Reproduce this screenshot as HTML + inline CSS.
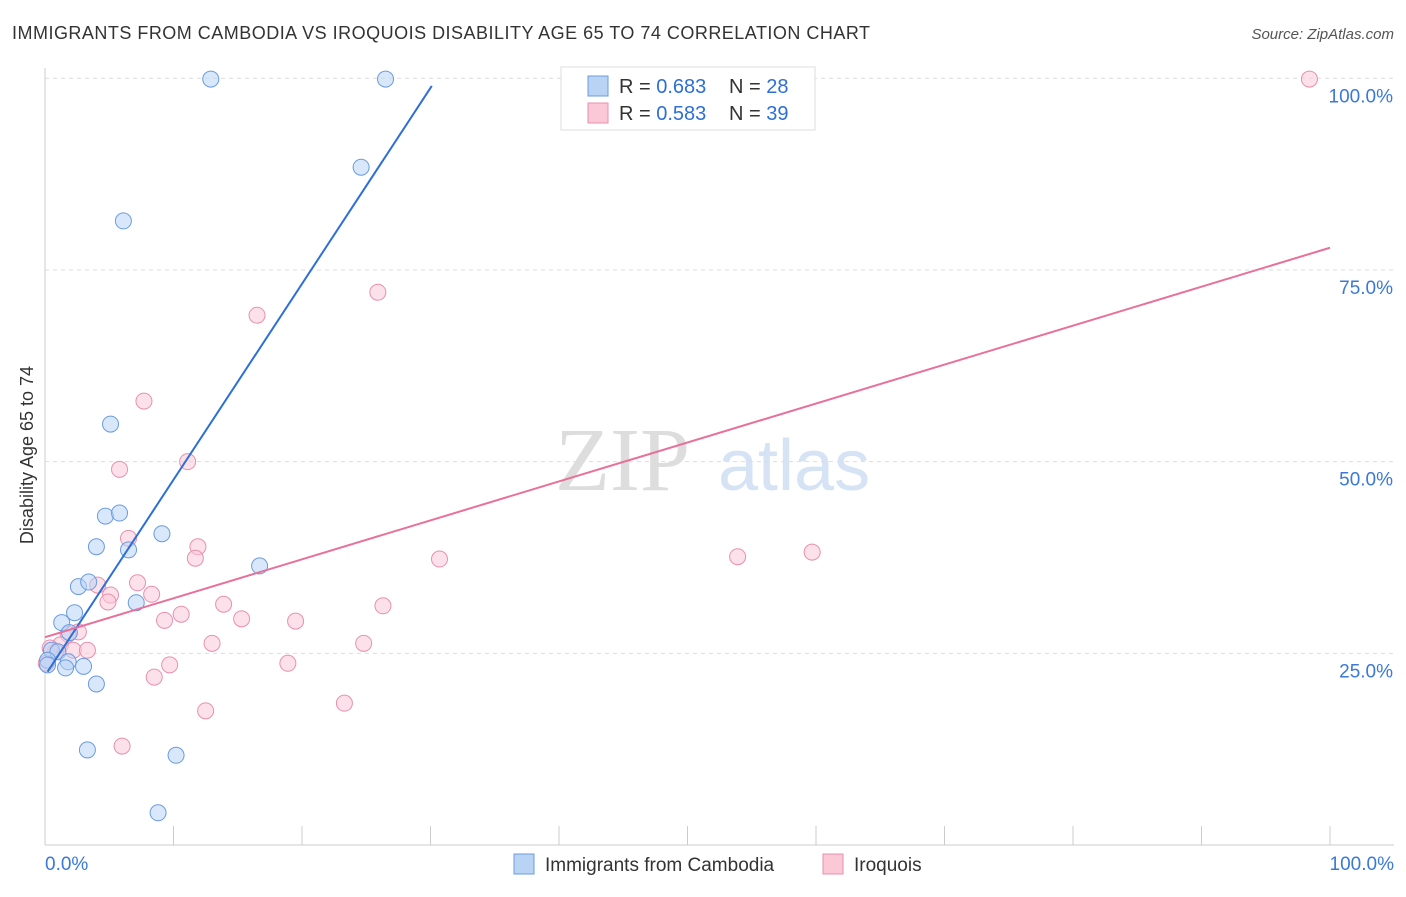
<!DOCTYPE html>
<html><head><meta charset="utf-8"><style>
body{margin:0;background:#fff;font-family:"Liberation Sans",sans-serif}
svg text{font-family:"Liberation Sans",sans-serif}
</style></head><body>
<svg id="c" width="1406" height="892">
<text x="12" y="39" font-size="18" fill="#333" textLength="858">IMMIGRANTS FROM CAMBODIA VS IROQUOIS DISABILITY AGE 65 TO 74 CORRELATION CHART</text>
<text x="1394" y="39" font-size="15" fill="#555" font-style="italic" text-anchor="end">Source: ZipAtlas.com</text>
<text x="33" y="455" font-size="18" fill="#333" text-anchor="middle" transform="rotate(-90 33 455)">Disability Age 65 to 74</text>
<text x="555" y="490" font-size="90" fill="#ddd" style="font-family:'Liberation Serif',serif">ZIP</text>
<text x="718" y="490" font-size="72" fill="#d5e3f5">atlas</text>
<g id="grid"></g><g id="marks"></g>
<g>
<rect x="561" y="67" width="254" height="63" fill="#fff" stroke="#ddd"/>
<rect x="588" y="76" width="20" height="20" fill="#b9d3f5" stroke="#6a9be0"/>
<rect x="588" y="103" width="20" height="20" fill="#fbc8d8" stroke="#e890ad"/>
<text x="619" y="93" font-size="20" fill="#333">R = <tspan fill="#2d6fd6">0.683</tspan></text>
<text x="729" y="93" font-size="20" fill="#333">N = <tspan fill="#2d6fd6">28</tspan></text>
<text x="619" y="120" font-size="20" fill="#333">R = <tspan fill="#2d6fd6">0.583</tspan></text>
<text x="729" y="120" font-size="20" fill="#333">N = <tspan fill="#2d6fd6">39</tspan></text>
</g>
<g>
<rect x="514" y="854" width="20" height="20" fill="#b9d3f5" stroke="#6a9be0"/>
<text x="545" y="871" font-size="19" fill="#333">Immigrants from Cambodia</text>
<rect x="823" y="854" width="20" height="20" fill="#fbc8d8" stroke="#e890ad"/>
<text x="854" y="871" font-size="19" fill="#333">Iroquois</text>
</g>
</svg>
<script>
const yTicks=[25,50,75,100];
const xTickLabels=["0.0%","100.0%"];
const blueX=[12.9,26.5,24.6,6.1,5.1,4.7,5.8,4.0,6.5,9.1,16.7,2.6,3.4,7.1,2.3,1.3,1.9,0.5,1.0,0.2,1.8,1.6,3.0,4.0,3.3,10.2,8.8,0.2];
const blueY=[99.9,99.9,88.4,81.4,54.9,42.9,43.3,38.9,38.5,40.6,36.4,33.7,34.3,31.6,30.3,29.0,27.7,25.4,25.2,24.1,23.9,23.1,23.3,21.0,12.4,11.7,4.2,23.5];
const pinkX=[98.4,25.9,16.5,7.7,11.1,5.8,6.5,11.9,11.7,30.7,53.9,59.7,7.2,4.1,5.1,8.3,4.9,13.9,26.3,10.6,9.3,15.3,19.5,2.6,1.8,13.0,24.8,1.2,2.2,3.3,0.8,9.7,18.9,8.5,23.3,12.5,6.0,0.4,0.1];
const pinkY=[99.9,72.1,69.1,57.9,50.0,49.0,40.0,38.9,37.4,37.3,37.6,38.2,34.2,33.9,32.6,32.7,31.7,31.4,31.2,30.1,29.3,29.5,29.2,27.8,27.5,26.3,26.3,26.1,25.4,25.4,25.2,23.5,23.7,21.9,18.5,17.5,12.9,25.7,23.7];
const blueTrend=[0.2,22.6,30.1,99.0];
const pinkTrend=[0,27.1,100,77.9];
const sx=v=>45+v*12.85, sy=v=>845-v*7.667;
const NS="http://www.w3.org/2000/svg";
const g=document.getElementById('grid'), m=document.getElementById('marks');
function el(t,a,p){const e=document.createElementNS(NS,t);for(const k in a)e.setAttribute(k,a[k]);p.appendChild(e);return e;}
let ax=el('line',{x1:45,y1:68,x2:45,y2:845,stroke:'#ccc'},g);


let bx=el('line',{x1:45,y1:845,x2:1394,y2:845,stroke:'#ccc'},g);


yTicks.forEach(t=>{
 let l=el('line',{x1:45,x2:1394,y1:sy(t),y2:sy(t),stroke:'#ddd','stroke-dasharray':'4,4'},g);
 
 
 let tx=el('text',{x:1393,y:sy(t)+24,'font-size':19,fill:'#3b78d8','text-anchor':'end'},g);tx.textContent=t.toFixed(1)+'%';
 
 
});
for(let i=1;i<=10;i++){let l=el('line',{x1:sx(i*10),x2:sx(i*10),y1:826,y2:845,stroke:'#ccc'},g);
 
 }
let t0=el('text',{x:45,y:870,'font-size':19,fill:'#3b78d8'},g);t0.textContent=xTickLabels[0];


let t1=el('text',{x:1394,y:870,'font-size':19,fill:'#3b78d8','text-anchor':'end'},g);t1.textContent=xTickLabels[1];


function pts(X,Y,f,s,n){X.forEach((x,i)=>{let c=el('circle',{cx:sx(x),cy:sy(Y[i]),r:8,fill:f,'fill-opacity':0.55,stroke:s,'stroke-width':1},m);
 
 });}
pts(pinkX,pinkY,'#fbc8d8','#e890ad','iroquois-point');
pts(blueX,blueY,'#b9d3f5','#6a9be0','cambodia-point');
let bl=el('line',{x1:sx(blueTrend[0]),y1:sy(blueTrend[1]),x2:sx(blueTrend[2]),y2:sy(blueTrend[3]),stroke:'#2d6fd6','stroke-width':2},m);


let pl=el('line',{x1:sx(pinkTrend[0]),y1:sy(pinkTrend[1]),x2:sx(pinkTrend[2]),y2:sy(pinkTrend[3]),stroke:'#e8709a','stroke-width':2},m);


</script>
</body></html>
